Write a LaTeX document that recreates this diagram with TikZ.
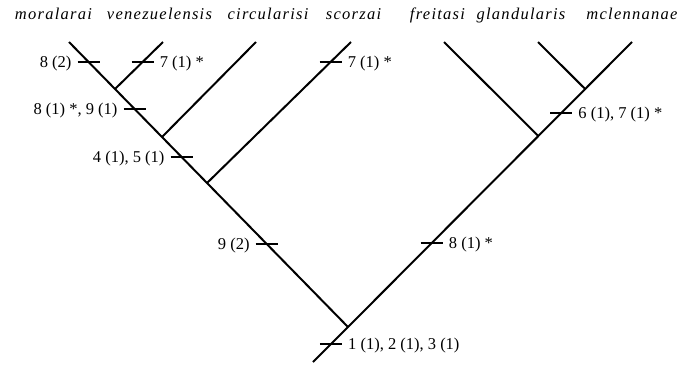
\documentclass[tikz,border=0pt]{standalone}
\usepackage{fontspec}
\setmainfont{Liberation Serif}
\usetikzlibrary{calc}
\begin{document}
\begin{tikzpicture}[x=1pt,y=-1pt,
  branch/.style={line width=2pt,line join=miter},
  tickmark/.style={line width=1.6pt},
  taxon/.style={anchor=base,inner sep=0pt,font=\fontsize{16.5}{19}\selectfont\itshape\addfontfeature{LetterSpace=7.7}},
  lblR/.style={anchor=base west,inner sep=0pt,font=\fontsize{16.5}{19}\selectfont},
  lblL/.style={anchor=base east,inner sep=0pt,font=\fontsize{16.5}{19}\selectfont}]
\useasboundingbox (0,0) rectangle (689,367);
% taxon names
\node[taxon] (n1) at (53.5,19) {moralarai};
\node[taxon] (n2) at (159.5,19) {venezuelensis};
\node[taxon] (n3) at (268,19) {circularisi};
\node[taxon] (n4) at (353.5,19) {scorzai};
\node[taxon] (n5) at (437.5,19) {freitasi};
\node[taxon] (n6) at (521,19) {glandularis};
\node[taxon] (n7) at (632,19) {mclennanae};
% tips
\coordinate (t1) at (69,42);
\coordinate (t2) at (163,42);
\coordinate (t3) at (256,42);
\coordinate (t4) at (351,42);
\coordinate (t5) at (444,42);
\coordinate (t6) at (538,42);
\coordinate (t7) at (632,42);
\coordinate (R) at (348,327);
\coordinate (S) at (313,362);
% junctions
\coordinate (J1) at ($(t1)!47/285!(R)$);
\coordinate (J2) at ($(t1)!95/285!(R)$);
\coordinate (J3) at ($(t1)!141/285!(R)$);
\coordinate (K1) at ($(t7)!47/285!(R)$);
\coordinate (K2) at ($(t7)!94/285!(R)$);
% branches
\draw[branch] (t1) -- (R);
\draw[branch] (t7) -- (R) -- (S);
\draw[branch] (t2) -- (J1);
\draw[branch] (t3) -- (J2);
\draw[branch] (t4) -- (J3);
\draw[branch] (t6) -- (K1);
\draw[branch] (t5) -- (K2);
% tick centres
\coordinate (T1) at ($(t1)!20/285!(R)$);
\coordinate (T2) at ($(t2)!20/47!(J1)$);
\coordinate (T3) at ($(t1)!67/285!(R)$);
\coordinate (T4) at ($(t1)!115/285!(R)$);
\coordinate (T5) at ($(t4)!20/141!(J3)$);
\coordinate (T6) at ($(t7)!71/285!(R)$);
\coordinate (T7) at ($(t1)!202/285!(R)$);
\coordinate (T8) at ($(t7)!201/285!(R)$);
\coordinate (T9) at ($(t7)!302/320!(S)$);
\foreach \c in {T1,T2,T3,T4,T5,T6,T7,T8,T9}
  \draw[tickmark] ([xshift=-11pt]\c) -- ([xshift=11pt]\c);
% labels
\node[lblL] (L1) at ($(T1)+(-17,5.7)$) {8 (2)};
\node[lblR] (L2) at ($(T2)+(17,5.7)$) {7 (1) *};
\node[lblL] (L3) at ($(T3)+(-17,5.7)$) {8 (1) *, 9 (1)};
\node[lblL] (L4) at ($(T4)+(-17,5.7)$) {4 (1), 5 (1)};
\node[lblR] (L5) at ($(T5)+(17,5.7)$) {7 (1) *};
\node[lblR] (L6) at ($(T6)+(17,5.7)$) {6 (1), 7 (1) *};
\node[lblL] (L7) at ($(T7)+(-17,5.7)$) {9 (2)};
\node[lblR] (L8) at ($(T8)+(17,5.7)$) {8 (1) *};
\node[lblR] (L9) at ($(T9)+(17,5.7)$) {1 (1), 2 (1), 3 (1)};
\end{tikzpicture}
\end{document}
